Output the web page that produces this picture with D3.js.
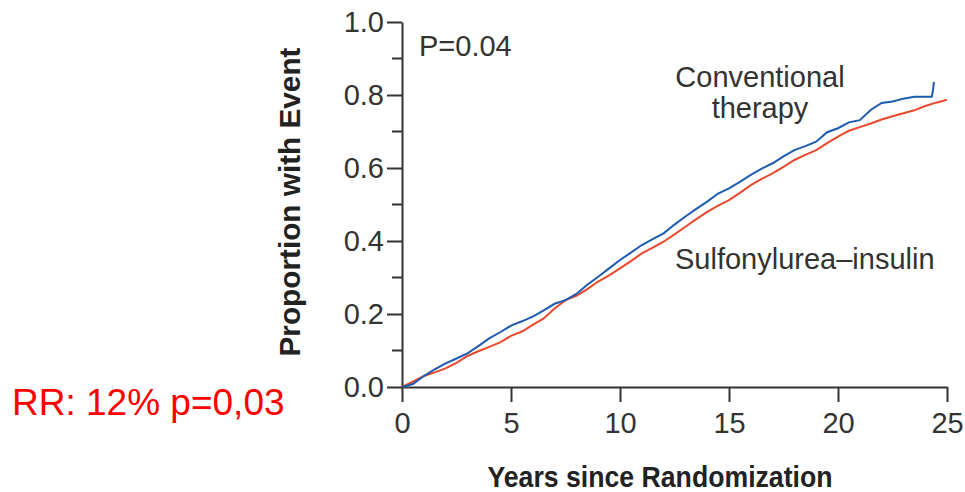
<!DOCTYPE html>
<html>
<head>
<meta charset="utf-8">
<script src="https://cdn.jsdelivr.net/npm/d3@7"></script>
<style>
  body { margin: 0; background: #fff; }
  svg { display: block; }
  .axis path, .axis line { stroke: #333; stroke-width: 2; }
  .axis text { font-family: "Liberation Sans", Arial, sans-serif; font-size: 29px; fill: #333; }
</style>
</head>
<body>
<div id="chart-container"></div>
<script>
// data (years, cumulative proportion)
const years = [0, 0.5, 1, 1.5, 2, 2.5, 3, 3.5, 4, 4.5, 5, 5.5, 6, 6.5, 7, 7.5, 8, 8.5, 9, 9.5,
  10, 10.5, 11, 11.5, 12, 12.5, 13, 13.5, 14, 14.5, 15, 15.5, 16, 16.5, 17, 17.5, 18, 18.5, 19, 19.5,
  20, 20.5, 21, 21.5, 22, 22.5, 23, 23.5, 24, 24.5, 25];

const conventional = [0, 0.008, 0.03, 0.048, 0.065, 0.078, 0.092, 0.112, 0.133, 0.15, 0.168, 0.18, 0.193, 0.21, 0.228, 0.238,
  0.255, 0.28, 0.302, 0.325, 0.348, 0.368, 0.389, 0.405, 0.421, 0.445, 0.467, 0.488, 0.508, 0.53, 0.544,
  0.562, 0.581, 0.598, 0.613, 0.632, 0.649, 0.66, 0.672, 0.698, 0.709, 0.725, 0.731, 0.759, 0.778, 0.782,
  0.79, 0.795, 0.795];
// conventional curve ends with a last jump just after 24 years
const convTailYears = [24.3, 24.35, 24.4];
const convTail = [0.795, 0.81, 0.836];

const sulfonylurea = [0, 0.015, 0.03, 0.04, 0.051, 0.066, 0.085, 0.098, 0.11, 0.122, 0.14, 0.152, 0.17, 0.188, 0.215, 0.238,
  0.25, 0.268, 0.289, 0.306, 0.325, 0.345, 0.366, 0.382, 0.398, 0.418, 0.439, 0.46, 0.48, 0.497, 0.512,
  0.532, 0.553, 0.57, 0.585, 0.603, 0.622, 0.636, 0.649, 0.668, 0.686, 0.702, 0.712, 0.722, 0.733, 0.742,
  0.75, 0.758, 0.77, 0.779, 0.787];

const xTicks = [0, 5, 10, 15, 20, 25];
const yTicks = [0, 0.2, 0.4, 0.6, 0.8, 1.0];
const yMinorTicks = [0.1, 0.3, 0.5, 0.7, 0.9];

// Set up the SVG container
const svgWidth = 965;
const svgHeight = 492;
const margin = { top: 22, right: 18, bottom: 105, left: 402 };
const width = svgWidth - margin.left - margin.right;
const height = svgHeight - margin.top - margin.bottom;

const root = d3.select("#chart-container")
  .append("svg")
  .attr("width", svgWidth)
  .attr("height", svgHeight);

const svg = root.append("g")
  .attr("transform", `translate(${margin.left},${margin.top})`);

const x = d3.scaleLinear().domain([0, 25]).range([0, width]);
const y = d3.scaleLinear().domain([0, 1]).range([height, 0]);

// axes
svg.append("g")
  .attr("class", "axis")
  .call(d3.axisLeft(y).tickValues(yTicks).tickSize(15).tickPadding(3).tickSizeOuter(0).tickFormat(d3.format(".1f")));

// minor ticks between the labelled ones
svg.append("g")
  .attr("class", "axis")
  .selectAll("line")
  .data(yMinorTicks)
  .join("line")
  .attr("x1", -10).attr("x2", 0)
  .attr("y1", d => y(d)).attr("y2", d => y(d));

svg.append("g")
  .attr("class", "axis")
  .attr("transform", `translate(0,${height})`)
  .call(d3.axisBottom(x).tickValues(xTicks).tickSize(15).tickPadding(10).tickSizeOuter(0));

// curves
const convData = years.slice(0, conventional.length).map((t, i) => [t, conventional[i]])
  .concat(convTailYears.map((t, i) => [t, convTail[i]]));
const sulfData = years.map((t, i) => [t, sulfonylurea[i]]);

// readings are too coarse for the real small steps, so just join them
const line = d3.line()
  .x(d => x(d[0]))
  .y(d => y(d[1]));

svg.append("path")
  .datum(sulfData)
  .attr("fill", "none")
  .attr("stroke", "#e8492c")
  .attr("stroke-width", 2)
  .attr("d", line);

svg.append("path")
  .datum(convData)
  .attr("fill", "none")
  .attr("stroke", "#1c5bb0")
  .attr("stroke-width", 2)
  .attr("d", line);

// labels inside the plot
const labelFont = "'Liberation Sans', Arial, sans-serif";

svg.append("text")
  .text("P=0.04")
  .attr("x", 17).attr("y", 34)
  .attr("font-family", labelFont).attr("font-size", 29).attr("fill", "#333");

svg.append("text")
  .attr("text-anchor", "middle")
  .attr("font-family", labelFont).attr("font-size", 29).attr("fill", "#333")
  .selectAll("tspan")
  .data(["Conventional", "therapy"])
  .join("tspan")
  .attr("x", 358)
  .attr("y", (d, i) => 65 + i * 31)
  .text(d => d);

svg.append("text")
  .text("Sulfonylurea\u2013insulin")
  .attr("x", 273).attr("y", 247)
  .attr("font-family", labelFont).attr("font-size", 29).attr("fill", "#333");

// axis titles
root.append("text")
  .text("Proportion with Event")
  .attr("transform", "translate(300,202) rotate(-90)")
  .attr("text-anchor", "middle")
  .attr("textLength", 309).attr("lengthAdjust", "spacingAndGlyphs")
  .attr("font-family", labelFont).attr("font-weight", "bold").attr("font-size", 30).attr("fill", "#222");

root.append("text")
  .text("Years since Randomization")
  .attr("x", 660).attr("y", 487)
  .attr("text-anchor", "middle")
  .attr("textLength", 345).attr("lengthAdjust", "spacingAndGlyphs")
  .attr("font-family", labelFont).attr("font-weight", "bold").attr("font-size", 30).attr("fill", "#222");

// red note on the left
root.append("text")
  .text("RR: 12% p=0,03")
  .attr("x", 12).attr("y", 415)
  .attr("font-family", "'Liberation Sans', Arial, sans-serif").attr("font-size", 37).attr("fill", "#ff0000");
</script>
</body>
</html>
